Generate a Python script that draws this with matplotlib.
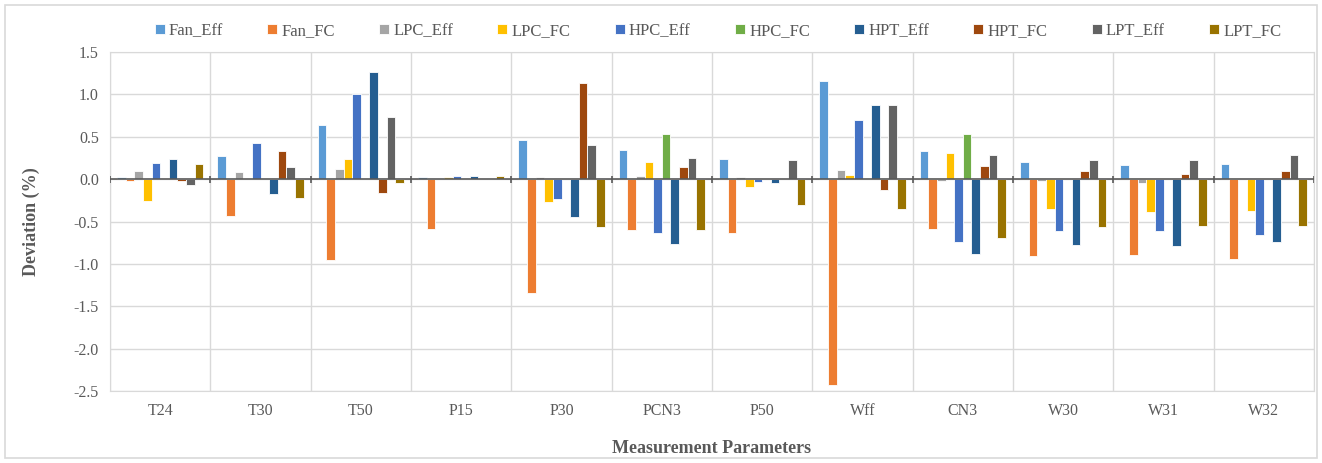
import matplotlib.pyplot as plt
import numpy as np
from matplotlib.patches import Rectangle

plt.rcParams['font.family'] = ['Liberation Serif', 'DejaVu Serif']

params = ["T24", "T30", "T50", "P15", "P30", "PCN3", "P50", "Wff", "CN3", "W30", "W31", "W32"]
series = ["Fan_Eff", "Fan_FC", "LPC_Eff", "LPC_FC", "HPC_Eff",
          "HPC_FC", "HPT_Eff", "HPT_FC", "LPT_Eff", "LPT_FC"]

fan_eff = [0.02, 0.27, 0.64, 0.02, 0.46, 0.345, 0.24, 1.155, 0.33, 0.20, 0.17, 0.18]
fan_fc = [-0.02, -0.44, -0.95, -0.585, -1.34, -0.60, -0.64, -2.43, -0.585, -0.91, -0.89, -0.94]
lpc_eff = [0.09, 0.08, 0.12, 0.0, 0.02, 0.035, 0.02, 0.11, -0.02, -0.02, -0.05, 0.0]
lpc_fc = [-0.26, 0.0, 0.24, 0.02, -0.27, 0.20, -0.09, 0.05, 0.31, -0.35, -0.39, -0.375]
hpc_eff = [0.19, 0.43, 1.01, 0.035, -0.24, -0.64, -0.035, 0.70, -0.74, -0.61, -0.61, -0.655]
hpc_fc = [0.0, 0.0, 0.0, 0.0, 0.0, 0.53, 0.0, 0.0, 0.53, 0.0, 0.0, 0.0]
hpt_eff = [0.24, -0.18, 1.26, 0.035, -0.45, -0.76, -0.05, 0.875, -0.88, -0.78, -0.79, -0.745]
hpt_fc = [-0.02, 0.33, -0.16, 0.0, 1.13, 0.14, 0.0, -0.125, 0.15, 0.095, 0.065, 0.095]
lpt_eff = [-0.07, 0.14, 0.73, 0.0, 0.40, 0.255, 0.23, 0.875, 0.29, 0.23, 0.23, 0.29]
lpt_fc = [0.18, -0.22, -0.05, 0.035, -0.57, -0.60, -0.30, -0.35, -0.69, -0.57, -0.555, -0.555]

values = [fan_eff, fan_fc, lpc_eff, lpc_fc, hpc_eff, hpc_fc, hpt_eff, hpt_fc, lpt_eff, lpt_fc]
colors = ['#5B9BD5', '#ED7D31', '#A5A5A5', '#FFC000', '#4472C4',
          '#70AD47', '#255E91', '#9E480E', '#636363', '#997300']

fig = plt.figure(figsize=(13.22, 4.63), dpi=100)
ax = fig.add_axes([110/1322, 72/463, 1204/1322, 339/463])

x = np.arange(len(params)) + 0.5
w = 0.086
for i, (name, vals, c) in enumerate(zip(series, values, colors)):
    ax.bar(x + (i - 4.5) * w, vals, width=w, color=c, edgecolor='white',
           linewidth=0.6, label=name, zorder=3)

ax.set_xlim(0, len(params))
ax.set_ylim(-2.5, 1.5)
ax.set_yticks(np.arange(-2.5, 1.51, 0.5))
ax.set_yticklabels([f"{v:.1f}" for v in np.arange(-2.5, 1.51, 0.5)])
ax.set_xticks(x)
ax.set_xticklabels(params)
ax.set_xticks(np.arange(0, len(params) + 1), minor=True)

ax.grid(axis='y', color='#d9d9d9', linewidth=1.0, zorder=0)
ax.grid(axis='x', which='minor', color='#d9d9d9', linewidth=1.0, zorder=0)
ax.tick_params(axis='both', which='both', length=0, labelsize=11.5, colors='#595959')
ax.tick_params(axis='x', pad=8.5)
ax.tick_params(axis='y', pad=8)
for s in ax.spines.values():
    s.set_color('#d9d9d9')

# zero axis line with small tick marks at category borders
ax.axhline(0, color='#595959', linewidth=1.2, zorder=4)
ax.vlines(np.arange(0, len(params) + 1), -0.04, 0.04, color='#595959', linewidth=1.2, zorder=4)

ax.set_ylabel('Deviation (%)', fontsize=13, fontweight='bold', color='#595959', labelpad=24)
ax.set_xlabel('Measurement Parameters', fontsize=13, fontweight='bold', color='#595959', labelpad=15)

leg = fig.legend(loc='center', bbox_to_anchor=(718/1322, 1 - 31/463), ncol=10, frameon=False,
                 fontsize=12, handlelength=0.6, handleheight=0.6, handletextpad=0.25,
                 columnspacing=2.65)
for t in leg.get_texts():
    t.set_color('#595959')

fig.patches.append(Rectangle((5/1322, 5/463), 1312/1322, 453/463, transform=fig.transFigure,
                             fill=False, edgecolor='#d9d9d9', linewidth=1.2))

fig.savefig("out.png", dpi=100)
